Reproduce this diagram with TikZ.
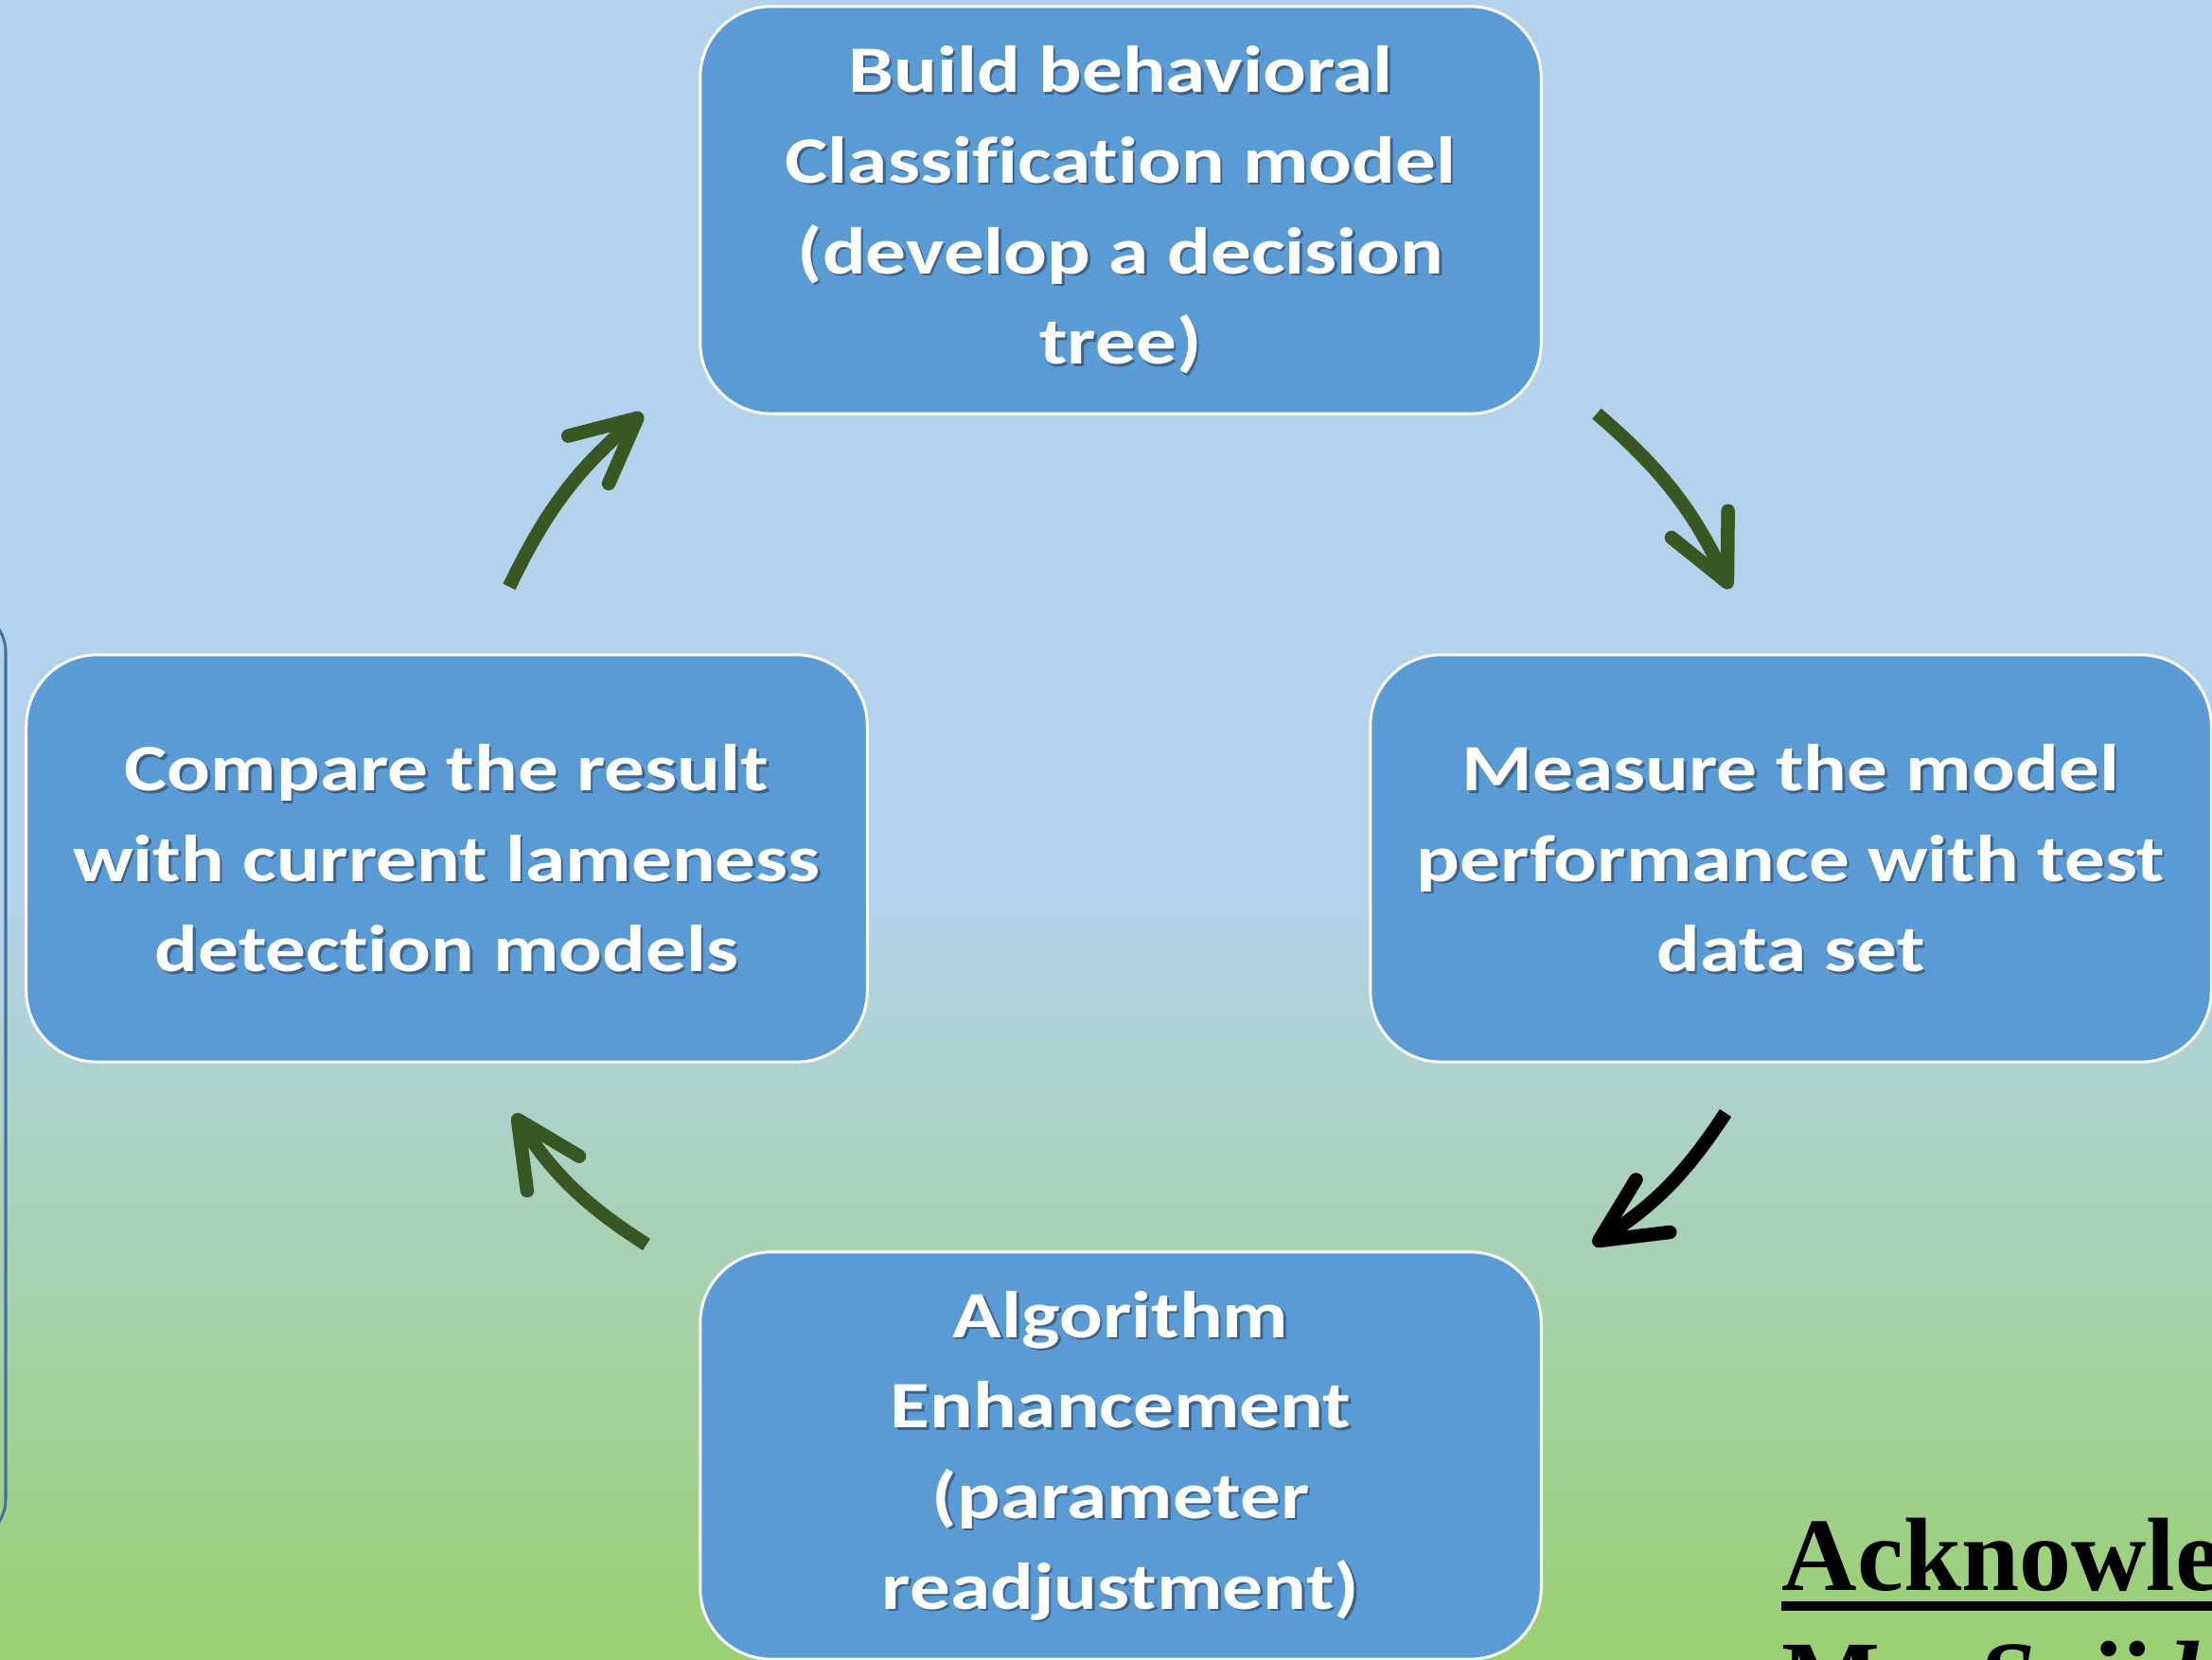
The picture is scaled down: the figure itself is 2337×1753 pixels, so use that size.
\documentclass[tikz,border=0pt]{standalone}
\usepackage{fontspec}
\setmainfont{Carlito}[FakeStretch=1.22, Ligatures=NoCommon]
\newfontfamily\ackfont{Liberation Serif}
\usetikzlibrary{arrows.meta}

\definecolor{skyblue}{HTML}{B4D2EB}
\definecolor{meadow}{HTML}{99D070}
\definecolor{boxblue}{HTML}{5B9BD5}
\definecolor{arrowgreen}{HTML}{385723}
\definecolor{frameblue}{HTML}{41719C}

% step texts (used for the white text and its drop shadow)
\newcommand\txtbuild{Build behavioral\\Classification model\\(develop a decision\\tree)}
\newcommand\txtmeasure{Measure the model\\performance with test\\data set}
\newcommand\txtenhance{Algorithm\\Enhancement\\(parameter\\readjustment)}
\newcommand\txtcompare{Compare the result\\with current lameness\\detection models}

\begin{document}
\begin{tikzpicture}[x=0.01cm,y=0.01cm,
  stepbox/.style={draw=white, line width=0.03cm, fill=boxblue,
    rounded corners=0.75cm, minimum width=8.88cm, minimum height=4.3cm, inner sep=0pt},
  steptext/.style={text=white, align=center, inner sep=0pt,
    font=\bfseries\fontsize{19.9}{27.2}\selectfont},
  stepshadow/.style={steptext, text=black, text opacity=0.35, xshift=0.025cm, yshift=-0.025cm},
  cyclearrow/.style={line width=0.145cm, draw=arrowgreen,
    -{Straight Barb[length=0.68cm,width=0.66cm,round]}, bend left=12},
  ack/.style={inner sep=0pt, font=\ackfont\bfseries\fontsize{31.3}{36}\selectfont},
]
\useasboundingbox (0,0) rectangle (2337,1753);
\clip (0,0) rectangle (2337,1753);

% background: light blue above, fading to green towards the bottom
\fill[skyblue] (0,800) rectangle (2337,1753);
\shade[top color=skyblue, bottom color=meadow] (0,0) rectangle (2337,803);

% frame of the panel on the left
\draw[frameblue, line width=0.03cm, rounded corners=0.45cm] (-200,124) rectangle (6,1109);

% the four steps of the cycle
\node[stepbox] (build)   at (1184,1531) {};
\node[stepbox] (measure) at (1892,846)  {};
\node[stepbox] (enhance) at (1184,215)  {};
\node[stepbox] (compare) at (472,846)   {};

\node[stepshadow] (buildS)   at (build.center)   {\txtbuild};
\node[steptext]   (buildT)   at (build.center)   {\txtbuild};
\node[stepshadow] (measureS) at (measure.center) {\txtmeasure};
\node[steptext]   (measureT) at (measure.center) {\txtmeasure};
\node[stepshadow] (enhanceS) at (enhance.center) {\txtenhance};
\node[steptext]   (enhanceT) at (enhance.center) {\txtenhance};
\node[stepshadow] (compareS) at (compare.center) {\txtcompare};
\node[steptext]   (compareT) at (compare.center) {\txtcompare};

% curved arrows between the steps
\coordinate (a1s) at (538,1133);  \coordinate (a1e) at (679,1316);
\coordinate (a2s) at (1687,1316); \coordinate (a2e) at (1828,1131);
\coordinate (a3s) at (1823,577);  \coordinate (a3e) at (1683,438);
\coordinate (a4s) at (683,438);   \coordinate (a4e) at (543,576);
\draw[cyclearrow] (a1s) to (a1e);
\draw[cyclearrow] (a2s) to (a2e);
\draw[cyclearrow, draw=black] (a3s) to (a3e);
\draw[cyclearrow] (a4s) to (a4e);

% acknowledgment heading in the corner
\node[ack, anchor=base west] (ackhead) at (1882,73) {Acknowledgments};
\fill ([yshift=-0.12cm]ackhead.base west) rectangle ([yshift=-0.22cm]ackhead.base east);
\node[ack, anchor=base west] (ackname) at (1882,-57) {Mr. \textit{Sajid Gh}};
\end{tikzpicture}
\end{document}
